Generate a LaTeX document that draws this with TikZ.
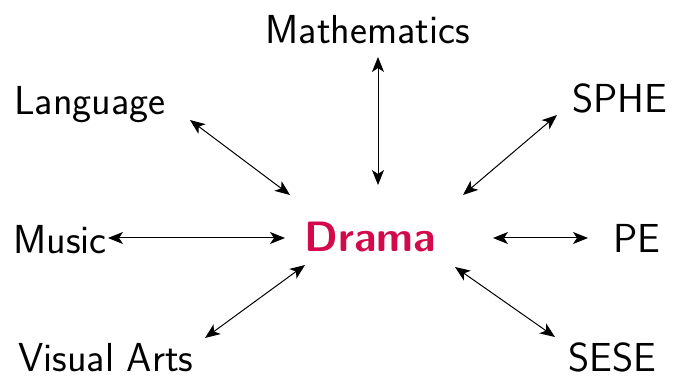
\documentclass[tikz,border=0pt]{standalone}
\usetikzlibrary{arrows.meta}
\definecolor{dramared}{RGB}{210,10,75}
\begin{document}
\begin{tikzpicture}[x=1pt,y=-1pt,
  lbl/.style={font=\sffamily\fontsize{40.5}{44}\selectfont,inner sep=0pt,anchor=center},
  link/.style={{Stealth[length=15pt,width=12pt,inset=4pt]}-{Stealth[length=15pt,width=12pt,inset=4pt]},line width=1pt}]
\useasboundingbox (0,0) rectangle (689,379);
\node[lbl,font=\sffamily\bfseries\fontsize{42.5}{46}\selectfont,text=dramared] (drama) at (370,237) {Drama};
\node[lbl] (math) at (368,30) {Mathematics};
\node[lbl] (lang) at (90,105) {Language};
\node[lbl] (sphe) at (620,98) {SPHE};
\node[lbl] (music) at (60,240) {Music};
\node[lbl] (pe) at (637,238) {PE};
\node[lbl] (visual) at (106,358) {Visual Arts};
\node[lbl] (sese) at (612,357) {SESE};
\coordinate (m1) at (378,57); \coordinate (m2) at (378,185);
\coordinate (l1) at (190,120); \coordinate (l2) at (290,195);
\coordinate (s1) at (557,115); \coordinate (s2) at (463,195);
\coordinate (u1) at (108,238); \coordinate (u2) at (285,238);
\coordinate (p1) at (493,238); \coordinate (p2) at (588,238);
\coordinate (v1) at (205,338); \coordinate (v2) at (305,265);
\coordinate (e1) at (455,267); \coordinate (e2) at (555,337);
\draw[link] (m1) -- (m2);
\draw[link] (l1) -- (l2);
\draw[link] (s1) -- (s2);
\draw[link] (u1) -- (u2);
\draw[link] (p1) -- (p2);
\draw[link] (v1) -- (v2);
\draw[link] (e1) -- (e2);
\end{tikzpicture}
\end{document}
